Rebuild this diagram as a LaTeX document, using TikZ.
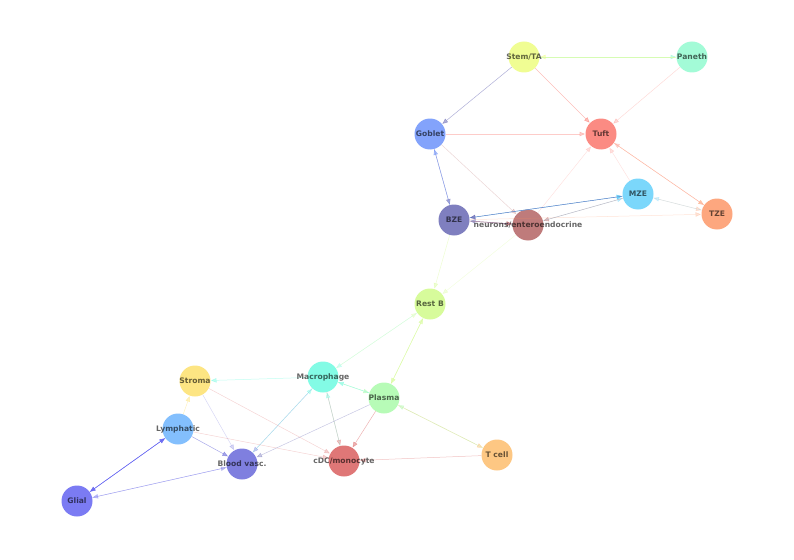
\documentclass[tikz,border=0pt]{standalone}
\usepackage{fontspec}
\newfontfamily\labfont{DejaVu Sans}
\usetikzlibrary{arrows.meta}
\definecolor{cStem}{RGB}{236,252,120}
\definecolor{cPaneth}{RGB}{140,250,205}
\definecolor{cGoblet}{RGB}{100,140,250}
\definecolor{cTuft}{RGB}{250,110,100}
\definecolor{cMZE}{RGB}{90,205,250}
\definecolor{cTZE}{RGB}{252,145,95}
\definecolor{cBZE}{RGB}{95,95,175}
\definecolor{cNeur}{RGB}{175,90,90}
\definecolor{cRestB}{RGB}{205,250,130}
\definecolor{cStroma}{RGB}{252,222,100}
\definecolor{cMac}{RGB}{100,250,222}
\definecolor{cPlasma}{RGB}{165,250,165}
\definecolor{cLymph}{RGB}{100,175,252}
\definecolor{cBlood}{RGB}{95,95,215}
\definecolor{cCDC}{RGB}{215,85,85}
\definecolor{cTcell}{RGB}{252,185,100}
\definecolor{cGlial}{RGB}{90,90,240}
\tikzset{
  cell/.style={circle, minimum size=31pt, inner sep=0pt, fill=#1, fill opacity=0.8, draw=none},
  lab/.style={font=\labfont\bfseries\fontsize{7.6}{9}\selectfont, text=black, text opacity=0.6, inner sep=0pt},
  edge/.style={draw=#1, -{Triangle[length=5.5pt,width=4.5pt]}, line width=0.5pt, shorten >=0.3pt},
}
\begin{document}
\begin{tikzpicture}[x=1pt,y=-1pt]
\useasboundingbox (0,0) rectangle (794,559);
% nodes
\node[cell=cStem] (stem) at (524,57) {};
\node[cell=cPaneth] (paneth) at (692,57) {};
\node[cell=cGoblet] (goblet) at (430,134) {};
\node[cell=cTuft] (tuft) at (601,134) {};
\node[cell=cMZE] (mze) at (638,194) {};
\node[cell=cTZE] (tze) at (717,214) {};
\node[cell=cBZE] (bze) at (454,220) {};
\node[cell=cNeur] (neur) at (528,225) {};
\node[cell=cRestB] (restb) at (430,304) {};
\node[cell=cStroma] (stroma) at (195,381) {};
\node[cell=cMac] (mac) at (323,377) {};
\node[cell=cPlasma] (plasma) at (384,398) {};
\node[cell=cLymph] (lymph) at (178,429) {};
\node[cell=cBlood] (blood) at (242,464) {};
\node[cell=cCDC] (cdc) at (344,461) {};
\node[cell=cTcell] (tcell) at (497,455) {};
\node[cell=cGlial] (glial) at (77,501) {};
% edges
\draw[edge=cPaneth, opacity=0.5] (stem) -- (paneth);
\draw[edge=cStem, opacity=0.45] (paneth) -- (stem);
\draw[edge=cBZE, opacity=0.5] (stem) -- (goblet);
\draw[edge=cTuft, opacity=0.45] (stem) -- (tuft);
\draw[edge=cTuft, opacity=0.25] (paneth) -- (tuft);
\draw[edge=cTuft, opacity=0.35] (goblet) -- (tuft);
\draw[edge=cBZE, opacity=0.5] (goblet) -- (bze);
\draw[edge=cGoblet, opacity=0.5] (bze) -- (goblet);
\draw[edge=cNeur, opacity=0.25] (goblet) -- (neur);
\draw[edge=cTuft, opacity=0.2] (neur) -- (tuft);
\draw[edge=cTuft, opacity=0.2] (mze) -- (tuft);
\draw[edge=cTZE, opacity=0.45] (tuft) -- (tze);
\draw[edge=cTuft, opacity=0.25] (tze) -- (tuft);
\draw[edge=cTZE, opacity=0.25] (mze) -- (tze);
\draw[edge=cMZE, opacity=0.25] (tze) -- (mze);
\draw[edge=cMZE, opacity=0.85] (bze) -- (mze);
\draw[edge=cBZE, opacity=0.7] (mze) -- (bze);
\draw[edge=cTZE, opacity=0.25] (bze) -- (tze);
\draw[edge=cNeur, opacity=0.7] (bze) -- (neur);
\draw[edge=cBZE, opacity=0.45] (neur) -- (bze);
\draw[edge=cMZE, opacity=0.35] (neur) -- (mze);
\draw[edge=cNeur, opacity=0.35] (mze) -- (neur);
\draw[edge=cRestB, opacity=0.35] (bze) -- (restb);
\draw[edge=cRestB, opacity=0.25] (neur) -- (restb);
\draw[edge=cMac, opacity=0.25] (restb) -- (mac);
\draw[edge=cRestB, opacity=0.25] (mac) -- (restb);
\draw[edge=cRestB, opacity=0.5] (restb) -- (plasma);
\draw[edge=cRestB, opacity=0.45] (plasma) -- (restb);
\draw[edge=cMac, opacity=0.4] (mac) -- (stroma);
\draw[edge=cPlasma, opacity=0.45] (mac) -- (plasma);
\draw[edge=cMac, opacity=0.45] (plasma) -- (mac);
\draw[edge=cTcell, opacity=0.4] (plasma) -- (tcell);
\draw[edge=cPlasma, opacity=0.4] (tcell) -- (plasma);
\draw[edge=cCDC, opacity=0.35] (mac) -- (cdc);
\draw[edge=cMac, opacity=0.35] (cdc) -- (mac);
\draw[edge=cCDC, opacity=0.45] (plasma) -- (cdc);
\draw[edge=cBZE, opacity=0.35] (plasma) -- (blood);
\draw[edge=cBlood, opacity=0.3] (mac) -- (blood);
\draw[edge=cMac, opacity=0.35] (blood) -- (mac);
\draw[edge=cBlood, opacity=0.25] (stroma) -- (blood);
\draw[edge=cCDC, opacity=0.25] (stroma) -- (cdc);
\draw[edge=cStroma, opacity=0.4] (lymph) -- (stroma);
\draw[edge=cBlood, opacity=0.55] (lymph) -- (blood);
\draw[edge=cCDC, opacity=0.25] (lymph) -- (cdc);
\draw[edge=cGlial, opacity=0.8] (lymph) -- (glial);
\draw[edge=cGlial, opacity=0.8] (glial) -- (lymph);
\draw[edge=cBlood, opacity=0.35] (glial) -- (blood);
\draw[edge=cGlial, opacity=0.35] (blood) -- (glial);
\draw[edge=cCDC, opacity=0.35] (tcell) -- (cdc);
% labels
\node[lab] (lstem) at (stem) {Stem/TA};
\node[lab] (lpaneth) at (paneth) {Paneth};
\node[lab] (lgoblet) at (goblet) {Goblet};
\node[lab] (ltuft) at (tuft) {Tuft};
\node[lab] (lmze) at (mze) {MZE};
\node[lab] (ltze) at (tze) {TZE};
\node[lab] (lbze) at (bze) {BZE};
\node[lab] (lneur) at (neur) {neurons/enteroendocrine};
\node[lab] (lrestb) at (restb) {Rest B};
\node[lab] (lstroma) at (stroma) {Stroma};
\node[lab] (lmac) at (mac) {Macrophage};
\node[lab] (lplasma) at (plasma) {Plasma};
\node[lab] (llymph) at (lymph) {Lymphatic};
\node[lab] (lblood) at (blood) {Blood vasc.};
\node[lab] (lcdc) at (cdc) {cDC/monocyte};
\node[lab] (ltcell) at (tcell) {T cell};
\node[lab] (lglial) at (glial) {Glial};
\end{tikzpicture}
\end{document}
